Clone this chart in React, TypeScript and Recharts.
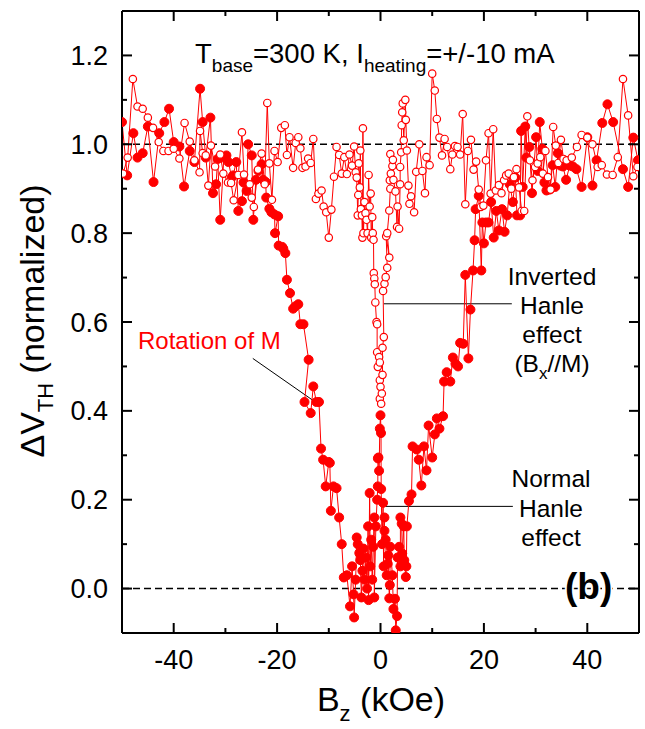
import React from 'react';
import { LineChart, Line, XAxis, YAxis, ReferenceLine } from 'recharts';

const W = 645;
const H = 729;
// axes are 1px thick in layout, so left/bottom margins are one less than the plot offsets
const M = { top: 11, right: 6, bottom: 95, left: 121 };
const PW = W - 122 - M.right;
const PH = H - M.top - 96;
const FONT = '"Liberation Sans", Arial, Helvetica, sans-serif';
const RED = '#ff0000';

const xTicks = [-40, -30, -20, -10, 0, 10, 20, 30, 40];
const yTicks = [0, 0.1, 0.2, 0.3, 0.4, 0.5, 0.6, 0.7, 0.8, 0.9, 1.0, 1.1, 1.2];

// filled circles: rotation of M (broad dip)
const rotationPts: [number, number][] = [
  [-50.0, 1.05], [-49.0, 0.93], [-47.8, 1.025], [-47.0, 0.97], [-46.0, 0.98], [-45.0, 1.04],
  [-43.9, 0.915], [-42.8, 1.025], [-41.8, 1.05], [-40.9, 1.08], [-40.0, 1.005], [-38.9, 0.995],
  [-38.0, 0.905], [-36.9, 0.985], [-36.0, 0.96], [-34.9, 1.125], [-34.4, 1.05], [-33.8, 0.97],
  [-32.9, 1.06], [-32.4, 0.89], [-31.8, 0.91], [-31.5, 0.967], [-31.0, 0.83], [-30.3, 0.97],
  [-29.8, 0.975], [-29.4, 0.96], [-28.8, 0.925], [-28.5, 0.93], [-27.9, 0.96], [-27.5, 0.85],
  [-26.8, 0.872], [-26.5, 0.914], [-25.9, 0.895], [-25.6, 1.0], [-24.9, 0.975], [-24.6, 0.83],
  [-24.1, 0.92], [-23.6, 0.94], [-23.0, 0.955], [-22.7, 0.92], [-22.2, 0.915], [-22.1, 0.88],
  [-21.5, 0.855], [-21.1, 0.847], [-20.5, 0.842], [-20.4, 0.8], [-19.8, 0.838], [-19.7, 0.772],
  [-19.0, 0.769], [-18.8, 0.765], [-18.4, 0.755], [-18.1, 0.695], [-17.5, 0.665], [-16.9, 0.63],
  [-16.5, 0.635], [-15.9, 0.64], [-15.5, 0.595], [-14.9, 0.595], [-13.9, 0.515], [-14.7, 0.42],
  [-13.5, 0.395], [-13.0, 0.455], [-12.4, 0.42], [-11.9, 0.42], [-11.5, 0.315], [-11.1, 0.29],
  [-10.6, 0.23], [-10.0, 0.285], [-9.8, 0.283], [-9.6, 0.175], [-9.1, 0.23], [-8.5, 0.226],
  [-8.0, 0.16], [-7.5, 0.1], [-7.1, 0.025], [-6.5, 0.03], [-5.9, -0.04], [-5.5, 0.05],
  [-5.2, -0.013], [-5.1, -0.065], [-4.8, 0.02], [-4.6, 0.115], [-4.4, 0.1], [-4.1, 0.08],
  [-3.9, 0.064], [-3.7, -0.02], [-3.5, 0.04], [-3.3, 0.09], [-3.1, 0.02], [-2.8, 0.07],
  [-2.6, 0.0], [-2.4, 0.14], [-2.3, -0.026], [-2.1, 0.215], [-1.98, 0.05], [-1.8, 0.11],
  [-1.6, 0.02], [-1.4, 0.094], [-1.2, 0.16], [-1.2, -0.02], [-0.9, 0.14], [-0.65, 0.2],
  [-0.52, 0.23], [-0.5, 0.293], [-0.4, 0.295], [-0.27, 0.265], [-0.13, 0.36], [0, 0.39],
  [0.1, 0.35], [0.13, 0.224], [0.3, 0.1], [0.5, 0.193], [0.6, 0.05], [0.77, 0.16],
  [0.77, 0.13], [1.0, 0.11], [1.2, 0.03], [1.4, 0.056], [1.5, 0.075], [1.7, -0.022],
  [1.8, 0.008], [1.9, 0.094], [2.3, 0.03], [2.5, -0.046], [2.8, -0.023], [2.95, -0.094],
  [3.2, -0.062], [3.3, 0.07], [3.6, 0.094], [3.85, 0.05], [3.85, 0.16], [4.1, 0.146],
  [4.2, 0.079], [4.5, 0.14], [4.6, 0.064], [4.9, 0.026], [5.0, 0.05], [5.1, 0.14],
  [5.5, 0.197], [6.0, 0.212], [6.2, 0.32], [7.0, 0.313], [7.4, 0.29], [7.9, 0.232],
  [8.4, 0.32], [8.9, 0.266], [9.3, 0.367], [10.0, 0.295], [10.5, 0.347], [10.9, 0.383],
  [11.4, 0.36], [12.1, 0.388], [12.3, 0.466], [12.8, 0.487], [13.5, 0.466], [14.0, 0.52],
  [14.5, 0.506], [15.0, 0.5], [15.4, 0.553], [16.0, 0.551], [16.4, 0.706], [17.0, 0.518],
  [17.4, 0.628], [17.9, 0.716], [18.2, 0.784], [18.4, 0.854], [19.0, 0.884], [19.5, 0.716],
  [19.7, 0.824], [20.0, 0.777], [20.4, 0.824], [20.9, 0.824], [21.4, 0.87], [21.9, 0.79],
  [22.4, 0.85], [22.9, 0.806], [23.5, 0.854], [24.0, 0.803], [24.5, 0.84], [25.0, 0.91],
  [25.6, 0.87], [26.1, 0.925], [26.4, 0.84], [27.0, 0.84], [27.2, 1.03], [27.5, 0.904],
  [28.0, 1.04], [28.2, 0.97], [28.8, 0.994], [29.3, 0.89], [30.1, 1.016], [30.4, 0.94],
  [30.8, 1.05], [31.3, 0.99], [31.7, 0.914], [32.1, 0.896], [32.7, 0.898], [33.3, 0.953],
  [33.8, 0.904], [34.3, 0.98], [34.8, 0.952], [35.3, 0.95], [35.9, 0.92], [36.6, 0.952],
  [37.2, 0.95], [37.9, 0.944], [38.9, 0.904], [40.0, 1.016], [41.0, 0.907], [41.8, 0.964],
  [42.9, 1.048], [43.9, 1.09], [45.0, 1.05], [46.9, 0.944], [47.9, 0.904], [48.9, 1.015],
  [49.8, 0.964],
];

// open circles: Hanle (narrow dip)
const hanlePts: [number, number][] = [
  [-49.8, 0.934], [-48.9, 0.97], [-47.9, 1.147], [-47.0, 1.085], [-46.0, 1.08], [-45.0, 1.06],
  [-44.0, 1.037], [-42.9, 1.005], [-42.0, 0.985], [-41.0, 0.985], [-40.0, 0.99], [-38.9, 0.968],
  [-37.9, 1.048], [-36.9, 1.006], [-36.0, 0.964], [-35.0, 0.937], [-34.9, 1.03], [-34.4, 0.98],
  [-33.8, 0.975], [-33.3, 0.907], [-32.8, 0.997], [-32.0, 0.95], [-31.0, 0.977], [-30.4, 0.934],
  [-29.5, 0.914], [-28.9, 0.913], [-28.4, 0.874], [-27.5, 0.931], [-26.8, 1.027], [-26.4, 0.932],
  [-25.3, 0.91], [-24.9, 0.88], [-24.5, 0.859], [-23.7, 0.943], [-23.0, 0.979], [-22.4, 0.91],
  [-21.9, 1.093], [-21.5, 0.957], [-21.0, 0.875], [-20.5, 0.985], [-19.9, 0.96], [-19.2, 1.037],
  [-18.5, 1.043], [-18.1, 0.976], [-17.6, 1.016], [-16.9, 0.947], [-16.4, 1.003], [-15.9, 1.016],
  [-15.5, 0.991], [-15.1, 0.947], [-14.5, 0.95], [-14.0, 0.968], [-13.5, 0.958], [-13.0, 1.012],
  [-12.5, 0.877], [-12.0, 0.889], [-11.4, 0.896], [-11.0, 0.86], [-10.5, 0.847], [-10.0, 0.79],
  [-9.5, 0.853], [-9.0, 0.927], [-8.5, 0.994], [-8.0, 0.976], [-7.5, 0.934], [-7.0, 0.971],
  [-6.5, 0.933], [-6.0, 0.977], [-5.5, 0.952], [-5.1, 0.995], [-4.8, 0.937], [-4.6, 0.925],
  [-4.4, 0.84], [-4.3, 0.886], [-4.2, 0.957], [-4.0, 0.903], [-3.9, 0.986], [-3.8, 0.854],
  [-3.6, 0.84], [-3.5, 0.79], [-3.4, 1.036], [-3.3, 0.8], [-3.1, 0.87], [-2.9, 0.845],
  [-2.7, 0.83], [-2.5, 0.8], [-2.3, 0.931], [-2.1, 0.86], [-1.9, 0.889], [-1.8, 0.79],
  [-1.6, 0.836], [-1.5, 0.8], [-1.35, 0.785], [-1.3, 0.71], [-1.2, 0.698], [-1.1, 0.685],
  [-1.0, 0.644], [-0.77, 0.6], [-0.65, 0.595], [-0.65, 0.532], [-0.52, 0.499], [-0.27, 0.521],
  [-0.13, 0.509], [-0.13, 0.469], [0, 0.454], [-0.13, 0.427], [0.13, 0.416], [0.26, 0.439],
  [0.39, 0.481], [0.39, 0.542], [0.64, 0.566], [0.5, 0.67], [0.77, 0.686], [1.0, 0.701],
  [1.3, 0.722], [1.1, 0.793], [1.7, 0.745], [1.3, 0.8], [1.7, 0.851], [1.9, 0.9],
  [1.8, 0.919], [2.0, 0.934], [1.9, 0.978], [2.3, 0.951], [2.4, 0.965], [2.5, 0.92],
  [2.9, 0.894], [3.2, 0.814], [3.3, 0.86], [3.6, 0.81], [3.8, 0.91], [3.8, 0.949],
  [4.0, 0.982], [4.1, 1.043], [4.2, 1.072], [4.3, 1.092], [4.5, 1.009], [4.8, 1.1],
  [4.9, 1.055], [5.1, 0.986], [5.4, 0.907], [5.6, 0.866], [5.9, 0.883], [6.5, 0.847],
  [6.9, 0.938], [7.5, 1.0], [8.1, 0.94], [8.6, 0.89], [8.9, 0.971], [9.5, 0.953],
  [10.0, 1.159], [10.5, 1.121], [10.9, 1.057], [11.4, 1.015], [11.9, 0.975], [12.4, 1.012],
  [12.9, 0.994], [13.5, 0.944], [13.9, 0.977], [14.4, 0.996], [14.9, 0.994], [15.4, 0.977],
  [15.9, 1.068], [16.4, 0.865], [16.9, 0.985], [17.5, 1.01], [18.0, 0.943], [18.5, 0.961],
  [19.0, 0.898], [19.4, 0.859], [19.9, 0.862], [20.4, 0.964], [20.9, 1.025], [21.3, 0.889],
  [21.8, 1.034], [22.3, 0.896], [22.9, 0.908], [23.4, 0.89], [23.9, 0.919], [24.3, 0.93],
  [24.8, 0.934], [25.3, 0.9], [25.8, 0.926], [26.3, 0.944], [26.8, 0.903], [27.3, 0.85],
  [27.8, 0.85], [28.4, 1.063], [28.9, 0.964], [29.4, 0.919], [29.9, 0.949], [30.4, 0.957],
  [30.9, 0.971], [31.4, 0.934], [31.9, 0.985], [32.4, 0.926], [32.9, 0.898], [33.4, 1.039],
  [33.9, 0.997], [34.4, 0.958], [34.9, 1.01], [35.4, 0.967], [36.0, 0.964], [37.0, 0.97],
  [38.0, 0.994], [38.9, 1.021], [40.0, 1.015], [41.0, 1.0], [42.0, 0.949], [42.8, 0.953],
  [43.8, 0.932], [44.9, 0.931], [45.9, 0.971], [46.9, 1.147], [47.9, 1.065], [48.9, 0.928],
  [49.7, 0.949],
];

const rotation = rotationPts.map(([b, v]) => ({ b, v }));
const hanle = hanlePts.map(([b, v]) => ({ b, v }));

// inward ticks, mirrored on the top edge
const XTick = (props: any) => {
  const { x, y, payload } = props;
  const v = payload.value;
  const len = v % 20 === 0 ? 10 : 5;
  return (
    <g>
      <line x1={x} x2={x} y1={y} y2={y - len} stroke="#000" strokeWidth={2} />
      <line x1={x} x2={x} y1={y - PH} y2={y - PH + len} stroke="#000" strokeWidth={2} />
      {len === 10 && (
        <text x={x} y={y + 36} textAnchor="middle" fontSize={27} fontFamily={FONT} fill="#000">
          {v}
        </text>
      )}
    </g>
  );
};

// inward ticks, mirrored on the right edge
const YTick = (props: any) => {
  const { x, y, payload } = props;
  const v = payload.value;
  const major = Math.round(v * 10) % 2 === 0;
  const len = major ? 10 : 5;
  return (
    <g>
      <line x1={x} x2={x + len} y1={y} y2={y} stroke="#000" strokeWidth={2} />
      <line x1={x + PW} x2={x + PW - len} y1={y} y2={y} stroke="#000" strokeWidth={2} />
      {major && (
        <text x={x - 14} y={y + 9.5} textAnchor="end" fontSize={27} fontFamily={FONT} fill="#000">
          {v.toFixed(1)}
        </text>
      )}
    </g>
  );
};

export default function App() {
  return (
    <div style={{ position: 'absolute', left: 0, top: 0, width: W, height: H, background: '#fff' }}>
      <LineChart width={W} height={H} margin={M}>
        <XAxis
          type="number"
          dataKey="b"
          domain={[-50, 50]}
          ticks={xTicks}
          interval={0}
          allowDataOverflow
          height={1}
          tickSize={0}
          tickMargin={0}
          tickLine={false}
          tick={<XTick />}
          axisLine={{ stroke: '#000', strokeWidth: 2 }}
        />
        <YAxis
          type="number"
          dataKey="v"
          domain={[-0.1, 1.3]}
          ticks={yTicks}
          interval={0}
          allowDataOverflow
          width={1}
          tickSize={0}
          tickMargin={0}
          tickLine={false}
          tick={<YTick />}
          axisLine={{ stroke: '#000', strokeWidth: 2 }}
        />
        <ReferenceLine y={1.3} stroke="#000" strokeWidth={2} />
        <ReferenceLine x={50} stroke="#000" strokeWidth={2} />
        <ReferenceLine x={-50} stroke="#000" strokeWidth={2} />
        <ReferenceLine y={-0.1} stroke="#000" strokeWidth={2} />
        <ReferenceLine y={1.0} stroke="#000" strokeWidth={1.5} strokeDasharray="7 4" />
        <ReferenceLine y={0.0} stroke="#000" strokeWidth={1.5} strokeDasharray="7 4" />
        <ReferenceLine segment={[{ x: -24.7, y: 0.518 }, { x: -12.5, y: 0.419 }]} stroke="#000" strokeWidth={1} />
        <ReferenceLine segment={[{ x: 0.64, y: 0.641 }, { x: 25.4, y: 0.641 }]} stroke="#000" strokeWidth={1} />
        <ReferenceLine segment={[{ x: 0.64, y: 0.185 }, { x: 25.6, y: 0.185 }]} stroke="#000" strokeWidth={1} />
        <Line
          data={rotation}
          dataKey="v"
          type="linear"
          stroke={RED}
          strokeWidth={1}
          dot={{ r: 4.5, fill: RED, stroke: RED, strokeWidth: 1 }}
          activeDot={false}
          isAnimationActive={false}
        />
        <Line
          data={hanle}
          dataKey="v"
          type="linear"
          stroke={RED}
          strokeWidth={1}
          dot={{ r: 3.7, fill: '#fff', stroke: RED, strokeWidth: 1.2 }}
          activeDot={false}
          isAnimationActive={false}
        />
      </LineChart>
      <svg
        width={W}
        height={H}
        style={{ position: 'absolute', left: 0, top: 0, pointerEvents: 'none' }}
        fontFamily={FONT}
      >
        <text x={195} y={63} fontSize={27.5} fill="#000">
          T<tspan dy={9} fontSize={19}>base</tspan>
          <tspan dy={-9}>=300 K, I</tspan>
          <tspan dy={9} fontSize={19}>heating</tspan>
          <tspan dy={-9}>=+/-10 mA</tspan>
        </text>
        <text x={138} y={349} fontSize={24} fill={RED}>Rotation of M</text>
        <g fontSize={24.5} fill="#000" textAnchor="middle">
          <text x={552} y={285}>Inverted</text>
          <text x={552} y={314}>Hanle</text>
          <text x={552} y={343}>effect</text>
          <text x={552} y={372}>
            (B<tspan dy={7} fontSize={17}>x</tspan>
            <tspan dy={-7}>//M)</tspan>
          </text>
          <text x={551} y={487}>Normal</text>
          <text x={551} y={517}>Hanle</text>
          <text x={551} y={546}>effect</text>
        </g>
        <text
          x={565}
          y={599}
          fontSize={37}
          fontWeight="bold"
          fill="#000"
          stroke="#fff"
          strokeWidth={4}
          paintOrder="stroke"
        >
          (b)
        </text>
        <text x={381} y={711} fontSize={34} fill="#000" textAnchor="middle">
          B<tspan dy={10} fontSize={22}>z</tspan>
          <tspan dy={-10}> (kOe)</tspan>
        </text>
        <text x={44} y={321} fontSize={34} fill="#000" textAnchor="middle" transform="rotate(-90 44 321)">
          ΔV<tspan dy={9} fontSize={22}>TH</tspan>
          <tspan dy={-9}> (normalized)</tspan>
        </text>
      </svg>
    </div>
  );
}
